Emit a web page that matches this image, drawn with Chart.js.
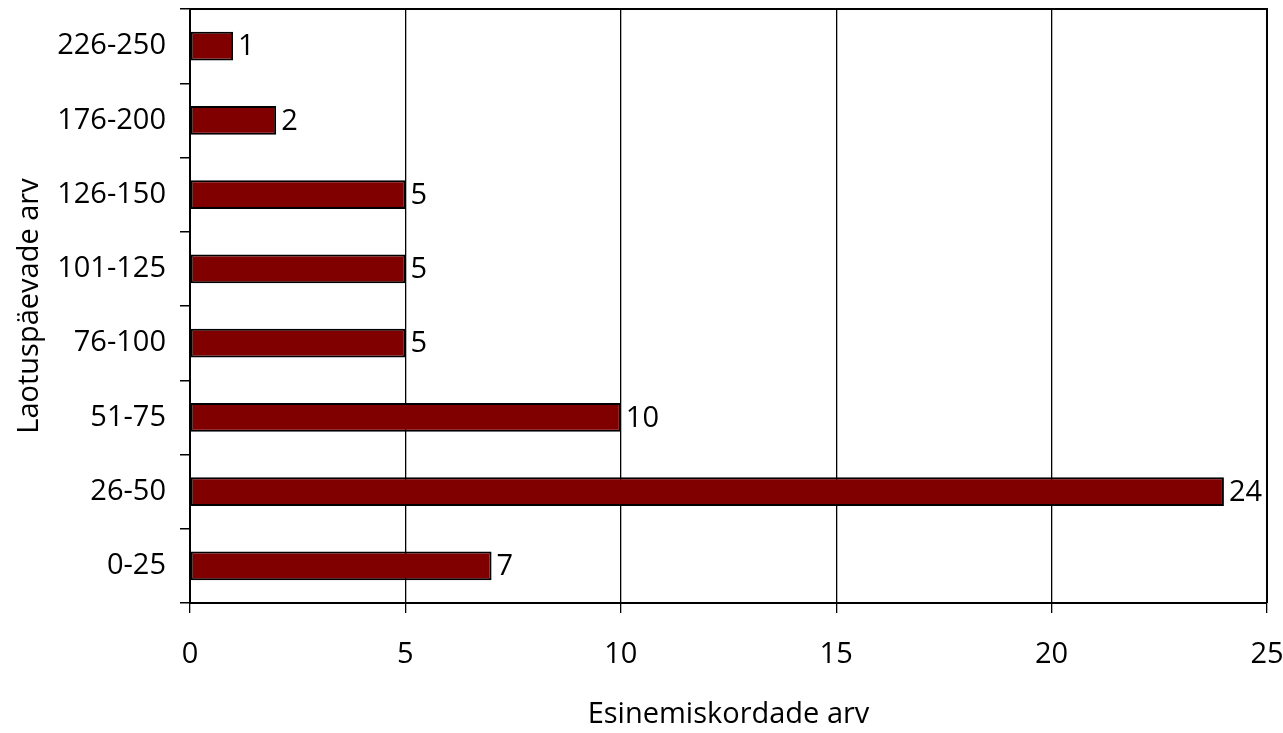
<!DOCTYPE html>
<html>
<head>
<meta charset="utf-8">
<script src="https://cdn.jsdelivr.net/npm/chart.js@4/dist/chart.umd.min.js"></script>
<style>
  html, body { margin: 0; padding: 0; background: #fff; }
  canvas { display: block; }
</style>
</head>
<body>
<canvas id="storageChart" width="1283" height="733"></canvas>
<script>
// storage-day buckets, top row first
const categories = ['226-250', '176-200', '126-150', '101-125', '76-100', '51-75', '26-50', '0-25'];
const counts = [1, 2, 5, 5, 5, 10, 24, 7];
const xTicks = [0, 5, 10, 15, 20, 25];

const FONT = { family: '"Open Sans", "DejaVu Sans", sans-serif', size: 29 };

// value printed just past the end of each bar
const barLabels = {
  id: 'barLabels',
  afterDatasetsDraw(chart) {
    const { ctx } = chart;
    const meta = chart.getDatasetMeta(0);
    ctx.save();
    ctx.font = `${FONT.size}px ${FONT.family}`;
    ctx.fillStyle = '#000';
    ctx.textAlign = 'left';
    ctx.textBaseline = 'middle';
    meta.data.forEach((bar, i) => {
      ctx.fillText(String(counts[i]), bar.x + 5, bar.y + 1);
    });
    ctx.restore();
  }
};

// frame round the plot area
const plotFrame = {
  id: 'plotFrame',
  afterDraw(chart) {
    const { ctx, chartArea: a } = chart;
    ctx.save();
    ctx.strokeStyle = '#000';
    ctx.lineWidth = 2;
    ctx.beginPath();
    ctx.moveTo(a.left, a.top);
    ctx.lineTo(a.right, a.top);
    ctx.lineTo(a.right, a.bottom);
    ctx.stroke();
    ctx.restore();
  }
};

new Chart(document.getElementById('storageChart'), {
  type: 'bar',
  data: {
    labels: categories,
    datasets: [{
      data: counts,
      backgroundColor: '#800000',
      borderColor: '#000',
      borderWidth: 2,
      borderSkipped: false,
      categoryPercentage: 1,
      barPercentage: 0.39,
    }]
  },
  options: {
    indexAxis: 'y',
    responsive: false,
    animation: false,
    devicePixelRatio: 1,
    layout: { padding: { left: 0, right: 16, top: 9, bottom: 0 } },
    scales: {
      x: {
        min: 0, max: 25,
        afterBuildTicks: axis => { axis.ticks = xTicks.map(v => ({ value: v })); },
        afterFit: axis => {
          axis.height = 130;
          axis.paddingLeft = 0;
          axis.paddingRight = 0;
        },
        grid: { color: '#000', lineWidth: 1.3, tickLength: 10 },
        border: { color: '#000', width: 2 },
        ticks: { color: '#000', font: FONT, padding: 24 },
        title: {
          display: true, text: 'Esinemiskordade arv', color: '#000', font: FONT,
          padding: { top: 0, bottom: 1 }
        }
      },
      y: {
        afterFit: axis => {
          axis.width = 190;
          axis.paddingTop = 0;
          axis.paddingBottom = 0;
        },
        grid: { drawOnChartArea: false, color: '#000', lineWidth: 1.5, tickLength: 10, offset: true },
        border: { color: '#000', width: 2 },
        ticks: { color: '#000', font: FONT, padding: 14 },
        title: {
          display: true, text: 'Laotuspäevade arv', color: '#000', font: FONT,
          padding: { top: 12, bottom: 0 }
        }
      }
    },
    plugins: {
      legend: { display: false },
      tooltip: { enabled: false }
    }
  },
  plugins: [barLabels, plotFrame]
});
</script>
</body>
</html>
